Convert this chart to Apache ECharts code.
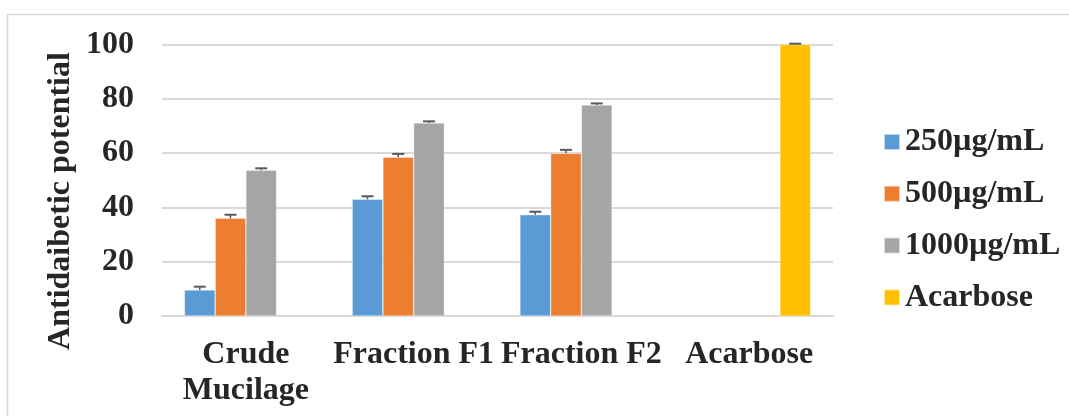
<!DOCTYPE html>
<html>
<head>
<meta charset="utf-8">
<script src="https://cdn.jsdelivr.net/npm/echarts@6/dist/echarts.min.js"></script>
<style>
html,body{margin:0;padding:0;background:#fff;}
#chart{width:1069px;height:416px;}
</style>
</head>
<body>
<div id="chart"></div>
<script>
const categories = ['Crude\nMucilage', 'Fraction F1', 'Fraction F2', 'Acarbose'];
const seriesNames = ['250µg/mL', '500µg/mL', '1000µg/mL', 'Acarbose'];
const v250 = [9.6, 43.0, 37.3, null];
const v500 = [36.0, 58.5, 59.9, null];
const v1000 = [53.7, 71.1, 77.7, null];
const vAcarbose = [null, null, null, 100];
const e250 = [1.2, 1.1, 1.1, null];
const e500 = [1.3, 1.2, 1.3, null];
const e1000 = [0.7, 0.6, 0.6, null];
const eAcarbose = [null, null, null, 0.3];
const yTicks = [0, 20, 40, 60, 80, 100];

const colors = ['#5b9bd5', '#ed7d31', '#a5a5a5', '#ffc000'];
const values = [v250, v500, v1000, vAcarbose];
const errors = [e250, e500, e1000, eAcarbose];
const catGap = 0.267;
const font = '"Liberation Serif", "Times New Roman", serif';

const chart = echarts.init(document.getElementById('chart'));

const barSeries = values.map((vals, i) => ({
  name: seriesNames[i],
  type: 'bar',
  data: vals,
  barGap: '0%',
  barCategoryGap: (catGap * 100) + '%',
  itemStyle: { color: colors[i], borderColor: 'rgba(255,255,255,0.6)', borderWidth: 0.6 },
  z: 2
}));

const errSeries = values.map((vals, i) => ({
  type: 'custom',
  name: 'err' + i,
  data: vals.map((v, k) => v == null ? null : [k, v, errors[i][k]]).filter(d => d),
  encode: { x: 0, y: 1 },
  z: 5,
  silent: true,
  renderItem: function (params, api) {
    const k = api.value(0);
    const v = api.value(1);
    const e = api.value(2);
    const band = api.size([1, 0])[0];
    const bw = band * (1 - catGap) / 4;
    const base = api.coord([k, v]);
    const top = api.coord([k, v + e]);
    const x = base[0] + (i - 1.5) * bw;
    const half = 6;
    return {
      type: 'group',
      children: [
        { type: 'line', shape: { x1: x, y1: base[1], x2: x, y2: top[1] }, style: { stroke: '#595959', lineWidth: 1.5 } },
        { type: 'line', shape: { x1: x - half, y1: top[1], x2: x + half, y2: top[1] }, style: { stroke: '#595959', lineWidth: 2 } }
      ]
    };
  }
}));

chart.setOption({
  animation: false,
  backgroundColor: '#ffffff',
  textStyle: { fontFamily: font },
  grid: { left: 162, right: 236, top: 44.5, bottom: 100 },
  legend: {
    orient: 'vertical',
    left: 878,
    top: 121,
    itemWidth: 16,
    itemHeight: 16,
    itemGap: 19.8,
    icon: 'rect',
    data: seriesNames,
    textStyle: { fontFamily: font, fontSize: 32, fontWeight: 'bold', color: '#262626', lineHeight: 32 }
  },
  xAxis: {
    type: 'category',
    data: categories,
    axisLine: { lineStyle: { color: '#d9d9d9', width: 2 } },
    axisTick: { show: false },
    axisLabel: {
      interval: 0,
      margin: 21,
      fontFamily: font,
      fontSize: 32,
      fontWeight: 'bold',
      color: '#262626',
      lineHeight: 36
    }
  },
  yAxis: {
    type: 'value',
    min: yTicks[0],
    max: yTicks[yTicks.length - 1],
    interval: 20,
    axisLine: { show: false },
    axisTick: { show: false },
    splitLine: { lineStyle: { color: '#d9d9d9', width: 2 } },
    axisLabel: {
      margin: 28,
      fontFamily: font,
      fontSize: 32,
      fontWeight: 'bold',
      color: '#262626'
    }
  },
  graphic: [
    {
      type: 'polyline',
      shape: { points: [[7.5, 430], [7.5, 14.5], [1080, 14.5]] },
      style: { stroke: '#d9d9d9', lineWidth: 1.5, fill: null },
      silent: true
    },
    {
      type: 'text',
      x: 61,
      y: 201,
      rotation: Math.PI / 2,
      style: {
        text: 'Antidaibetic potential',
        font: 'bold 32px ' + font,
        fill: '#262626',
        align: 'center',
        verticalAlign: 'middle'
      }
    }
  ],
  series: barSeries.concat(errSeries)
});
</script>
</body>
</html>
